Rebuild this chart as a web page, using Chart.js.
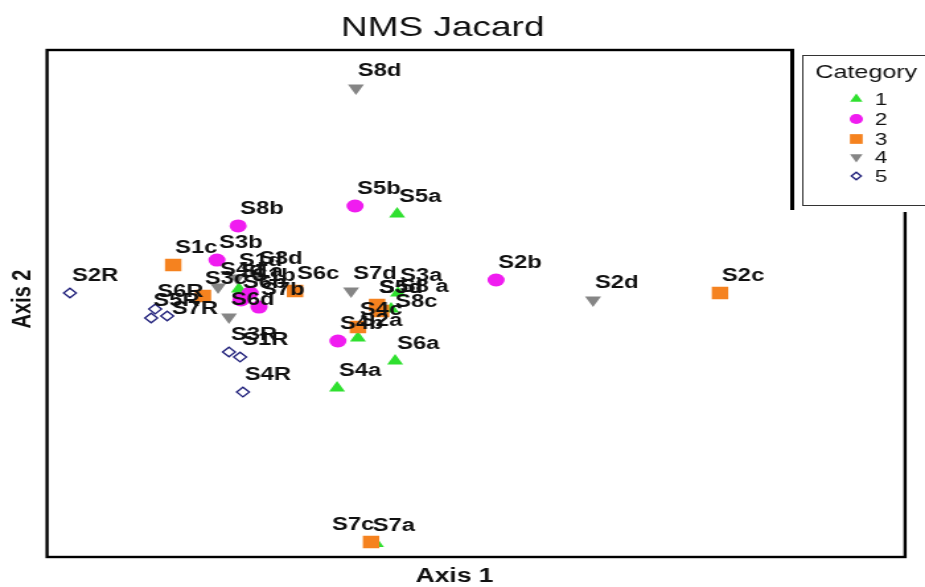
<!DOCTYPE html>
<html>
<head>
<meta charset="utf-8">
<title>NMS Jacard</title>
<script src="https://cdn.jsdelivr.net/npm/chart.js"></script>
<style>
  html, body { margin: 0; padding: 0; background: #fff; overflow: hidden; }
  #nms { display: block; width: 925px !important; height: 587px !important; }
</style>
</head>
<body>
<canvas id="nms" width="700" height="587"></canvas>
<script>
//NMS ordination scores, one group of arrays per category

//category 1
var cat1Names = ['S1a', 'S2a', 'S3a', 'S4a', 'S5a', 'S6a', 'S7a', 'S8 a'];
var cat1X = [-0.329, 0.087, 0.227, 0.014, 0.224, 0.217, 0.150, 0.203];
var cat1Y = [0.086, -0.204, 0.062, -0.500, 0.530, -0.340, -1.420, -0.033];

//category 2
var cat2Names = ['S1b', 'S2b', 'S3b', 'S4b', 'S5b', 'S6b', 'S7b', 'S8b'];
var cat2X = [-0.290, 0.570, -0.406, 0.017, 0.077, -0.322, -0.259, -0.332];
var cat2Y = [0.062, 0.139, 0.257, -0.222, 0.577, 0.021, -0.021, 0.459];

//category 3
var cat3Names = ['S1c', 'S2c', 'S3c', 'S4c', 'S5c', 'S6c', 'S7c', 'S8c'];
var cat3X = [-0.559, 1.353, -0.455, 0.087, 0.154, -0.133, 0.133, 0.168];
var cat3Y = [0.228, 0.062, 0.044, -0.139, -0.009, 0.074, -1.411, -0.044];

//category 4
var cat4Names = ['S1d', 'S2d', 'S3d', 'S4d', 'S5d', 'S6d', 'S7d', 'S8d'];
var cat4X = [-0.336, 0.909, -0.266, -0.402, 0.154, -0.364, 0.063, 0.080];
var cat4Y = [0.151, 0.021, 0.163, 0.098, -0.009, -0.080, 0.074, 1.275];

//category 5
var cat5Names = ['S2R', 'S6R', 'S5R', 'S7R', 'S3R', 'S1R', 'S4R'];
var cat5X = [-0.920, -0.622, -0.636, -0.580, -0.364, -0.325, -0.315];
var cat5Y = [0.062, -0.033, -0.086, -0.074, -0.287, -0.317, -0.524];

var categories = ['1', '2', '3', '4', '5'];

//a few names sit away from the default upper-right spot
var labelNudge = {
    'S7c': [-31, 0],
    'S7a': [-4, 0],
    'S7R': [2, 10],
    'S8c': [9, 8],
    'S8 a': [5, -5]
};

function toPoints(xs, ys) {
    return xs.map(function (x, i) { return { x: x, y: ys[i] }; });
}

var textFont = '"Liberation Sans", Arial, sans-serif';

//frame round the plot area
var plotFrame = {
    id: 'plotFrame',
    beforeDatasetsDraw: function (chart) {
        var a = chart.chartArea;
        var ctx = chart.ctx;
        ctx.save();
        ctx.strokeStyle = '#000';
        ctx.lineWidth = 2.4;
        ctx.strokeRect(a.left, a.top, a.right - a.left, a.bottom - a.top);
        ctx.restore();
    }
};

//sample names above each point
var pointLabels = {
    id: 'pointLabels',
    afterDatasetsDraw: function (chart) {
        var ctx = chart.ctx;
        ctx.save();
        ctx.font = 'bold 18px ' + textFont;
        ctx.fillStyle = '#111';
        ctx.textAlign = 'left';
        ctx.textBaseline = 'middle';
        chart.data.datasets.forEach(function (ds, i) {
            chart.getDatasetMeta(i).data.forEach(function (pt, j) {
                var name = ds.names[j];
                var nudge = labelNudge[name] || [0, 0];
                ctx.fillText(name, pt.x + 1.5 + nudge[0], pt.y - 17 + nudge[1]);
            });
        });
        ctx.restore();
    }
};

//title, axis titles and the category key
var chartText = {
    id: 'chartText',
    afterDraw: function (chart) {
        var ctx = chart.ctx;
        ctx.save();
        ctx.fillStyle = '#111';
        ctx.textBaseline = 'middle';

        ctx.textAlign = 'center';
        ctx.font = '28px ' + textFont;
        ctx.fillText('NMS Jacard', 335, 28);

        ctx.font = 'bold 20px ' + textFont;
        ctx.fillText('Axis 1', 344, 576);

        ctx.save();
        ctx.translate(17, 299);
        ctx.rotate(-Math.PI / 2);
        ctx.fillText('Axis 2', 0, 0);
        ctx.restore();

        //key box
        ctx.fillStyle = '#fff';
        ctx.fillRect(598, 46, 110, 166);
        ctx.strokeStyle = '#000';
        ctx.lineWidth = 3;
        ctx.beginPath();
        ctx.moveTo(599.5, 48.8);
        ctx.lineTo(599.5, 210);
        ctx.stroke();
        ctx.lineWidth = 1;
        ctx.strokeStyle = '#333';
        ctx.strokeRect(607.5, 55.5, 100, 150);

        ctx.fillStyle = '#111';
        ctx.textAlign = 'left';
        ctx.font = '19px ' + textFont;
        ctx.fillText('Category', 617, 73);

        var rows = [99, 119, 139, 157, 176];
        ctx.font = '17px ' + textFont;
        chart.data.datasets.forEach(function (ds, i) {
            ctx.fillStyle = ds.backgroundColor;
            ctx.strokeStyle = ds.borderColor;
            ctx.lineWidth = ds.borderWidth;
            Chart.helpers.drawPoint(ctx, {
                pointStyle: ds.pointStyle,
                rotation: ds.pointRotation || 0,
                radius: ds.pointRadius * 0.78,
                borderWidth: ds.borderWidth
            }, 648, rows[i]);
            ctx.fillStyle = '#111';
            ctx.fillText(ds.label, 662, rows[i] + 1);
        });
        ctx.restore();
    }
};

var ctx = document.getElementById('nms');

var myChart = new Chart(ctx, {
    type: 'scatter',
    data: {
        datasets: [
        {
            label: categories[0],
            names: cat1Names,
            data: toPoints(cat1X, cat1Y),
            pointStyle: 'triangle',
            pointRadius: 7,
            backgroundColor: '#2fe02f',
            borderColor: '#2fe02f',
            borderWidth: 0,
            order: 3
        },
        {
            label: categories[1],
            names: cat2Names,
            data: toPoints(cat2X, cat2Y),
            pointStyle: 'circle',
            pointRadius: 6.5,
            backgroundColor: '#f01cf0',
            borderColor: '#f01cf0',
            borderWidth: 0,
            order: 1
        },
        {
            label: categories[2],
            names: cat3Names,
            data: toPoints(cat3X, cat3Y),
            pointStyle: 'rect',
            pointRadius: 8.8,
            backgroundColor: '#f5821f',
            borderColor: '#f5821f',
            borderWidth: 0,
            order: 0
        },
        {
            label: categories[3],
            names: cat4Names,
            data: toPoints(cat4X, cat4Y),
            pointStyle: 'triangle',
            pointRotation: 180,
            pointRadius: 7,
            backgroundColor: '#858585',
            borderColor: '#858585',
            borderWidth: 0,
            order: 4
        },
        {
            label: categories[4],
            names: cat5Names,
            data: toPoints(cat5X, cat5Y),
            pointStyle: 'rectRot',
            pointRadius: 4.8,
            backgroundColor: 'rgba(255,255,255,0)',
            borderColor: '#1f1f7a',
            borderWidth: 1.3,
            order: 5
        }]
    },
    options: {
        responsive: false,
        animation: false,
        layout: {
            padding: { left: 35.6, right: 15.1, top: 50, bottom: 30 }
        },
        scales: {
            x: { type: 'linear', display: false, min: -1.0, max: 2.0 },
            y: { type: 'linear', display: false, min: -1.5, max: 1.5 }
        },
        plugins: {
            legend: { display: false },
            tooltip: { enabled: false }
        }
    },
    plugins: [plotFrame, pointLabels, chartText]
});
</script>
</body>
</html>
